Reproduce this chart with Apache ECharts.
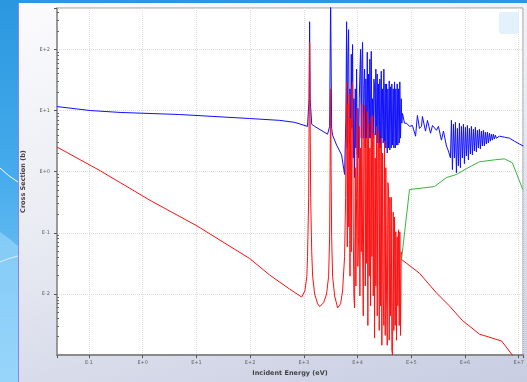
<!DOCTYPE html>
<html>
<head>
<meta charset="utf-8">
<script src="https://cdn.jsdelivr.net/npm/echarts@6/dist/echarts.min.js"></script>
<style>
  html, body { margin: 0; padding: 0; }
  body {
    width: 527px; height: 382px; overflow: hidden; position: relative;
    background: linear-gradient(180deg, #2a97df 0%, #45abec 45%, #8ed0f8 100%);
  }
  .deco { position: absolute; left: 0; top: 0; }
  .panel {
    position: absolute; left: 18px; top: 3px; right: 0; bottom: 0;
    border-left: 1px solid #8d80f2;
    background: linear-gradient(165deg, #fbfbfd 0%, #eaecf3 45%, #c8cde2 100%);
  }
  #chart { position: absolute; left: 0; top: 0; width: 527px; height: 382px; }
</style>
</head>
<body>
<svg class="deco" width="18" height="382">
  <path d="M0 232 Q 9 238 18 246 L18 382 L0 382 Z" fill="#9fd8fb" opacity="0.6"/>
  <path d="M0 168 Q 8 176 18 182" stroke="#ffffff" stroke-width="1" fill="none"/>
  <path d="M0 262 Q 9 258 18 256" stroke="#ffffff" stroke-width="1" fill="none" opacity="0.7"/>
</svg>
<div class="panel"></div>
<div id="chart"></div>
<script>
// incident energy (eV) vs cross section (b)
const totalXs = [
  [0.0254, 11.6], [0.105, 10], [0.38, 9.3], [4.9, 8.6], [98, 7.4], [355, 6.9], [676, 6.4],
  [1170, 5.5], [1250, 15.6], [1280, 283], [1310, 15.6], [1400, 5.95], [1590, 5.5],
  [2760, 4.1], [3020, 5.5], [3150, 700], [3290, 5.1], [3430, 3.95], [4070, 2.72],
  [5040, 1.88], [5730, 0.9],
  [6060, 7.4], [6250, 283], [6440, 2.44], [6600, 69], [6800, 210], [7010, 2.94], [7220, 22.6],
  [7410, 3.53], [7640, 83], [7840, 5.1], [8070, 120], [8320, 1.68], [8540, 15.6], [8800, 0.8],
  [9060, 22.6], [9300, 2.44], [9580, 47.5], [9870, 1.88], [10130, 10.8], [10440, 1.68],
  [10760, 15.6], [11040, 39.5], [11370, 100], [11720, 3.53], [12020, 57.3], [12390, 130],
  [12770, 3.53], [13100, 22.6], [13500, 47.5], [13910, 2.44], [14270, 32.8], [14700, 3.53],
  [15150, 90], [15540, 5.1], [16020, 39.5], [16500, 3.53], [16930, 69], [17450, 3.53],
  [17980, 93], [18450, 4.25], [19010, 15.6], [19590, 3.53], [20100, 32.8], [20710, 25.3],
  [21340, 3.95], [21890, 47.5], [22560, 3.53], [23240, 39.5], [23850, 2.94], [24570, 27.2],
  [25320, 2.44], [25980, 32.8], [26770, 2.44], [27590, 44], [28300, 3.53], [29170, 22.6],
  [30050, 2.94], [30840, 47.5], [31770, 2.44], [32740, 27.2], [33590, 2.44], [34620, 27.2],
  [35670, 2.02], [36600, 22.6], [37710, 2.44], [38860, 30.5], [39870, 2.26], [41080, 24.4],
  [42330, 2.44], [43440, 27.2], [44760, 2.72], [46120, 22.6], [47320, 2.44], [48750, 29.4],
  [50240, 2.44], [51540, 22.6], [53110, 2.72], [54730, 27.2], [56150, 2.72], [57860, 22.6],
  [59620, 2.94], [61170, 29.4], [63030, 3.53], [64950, 15.6], [66640, 6.2], [68600, 8.95],
  [74800, 6.2], [81500, 6.2], [92700, 5.5], [1.05e5, 5.7], [1.2e5, 3.8], [1.3e5, 8.3],
  [1.42e5, 5.1], [1.55e5, 5.5], [1.61e5, 8.0], [1.84e5, 4.6], [2.0e5, 6.9], [2.28e5, 4.25],
  [2.48e5, 5.7], [2.94e5, 4.75], [3.2e5, 5.5], [3.64e5, 3.28], [3.97e5, 4.6], [4.51e5, 2.63],
  [4.91e5, 2.18], [5.35e5, 1.68],
  [5.587e5, 6.9], [5.831e5, 1.08], [6.086e5, 5.95], [6.352e5, 1.68], [6.63e5, 6.4], [6.92e5, 0.96],
  [7.222e5, 5.1], [7.538e5, 1.25], [7.867e5, 6.2], [8.211e5, 1.16], [8.57e5, 5.5], [8.945e5, 1.68],
  [9.336e5, 5.95], [9.744e5, 1.35], [1.017e6, 5.32], [1.061e6, 1.81], [1.108e6, 5.7], [1.156e6, 1.56],
  [1.207e6, 5.1], [1.26e6, 1.95], [1.315e6, 5.5], [1.372e6, 1.88], [1.432e6, 4.94], [1.495e6, 2.18],
  [1.56e6, 5.32], [1.628e6, 2.1], [1.699e6, 4.75], [1.774e6, 2.44], [1.851e6, 4.94], [1.932e6, 2.35],
  [2.017e6, 4.6], [2.105e6, 2.63], [2.197e6, 4.75], [2.293e6, 2.63], [2.393e6, 4.42], [2.498e6, 2.83],
  [2.607e6, 4.42], [2.721e6, 2.94], [2.84e6, 4.25], [2.964e6, 3.16], [3.093e6, 4.1], [3.229e6, 3.28],
  [3.37e6, 4.1], [3.517e6, 3.41], [3.671e6, 3.95], [3.831e6, 3.53], [4.0e6, 3.8],
  [4.36e6, 3.8], [5.41e6, 3.67], [6.7e6, 3.53], [8.3e6, 3.16], [1.03e7, 2.83], [1.22e7, 2.63]
];

const captureXs = [
  [0.0254, 2.53], [0.16, 1.04], [1.37, 0.34], [10.2, 0.13], [98, 0.038], [231, 0.0204],
  [545, 0.012], [910, 0.0089], [1045, 0.0112], [1137, 0.0195], [1170, 0.041], [1230, 0.38],
  [1253, 7.4], [1280, 130], [1309, 7.4], [1340, 0.38], [1400, 0.049], [1458, 0.0195],
  [1586, 0.01], [1807, 0.0069], [1970, 0.0062], [2330, 0.0072], [2650, 0.01], [2890, 0.0195],
  [3020, 0.086], [3080, 1.16], [3150, 22.6], [3215, 1.16], [3290, 0.086], [3430, 0.0195],
  [3740, 0.0093], [4250, 0.0059], [4830, 0.0069], [5260, 0.0112], [5730, 0.041], [5984, 0.38],
  [6246, 29.4], [6436, 0.059], [6603, 13.0], [6804, 0.125], [7011, 18.8], [7224, 0.0195],
  [7412, 7.4], [7637, 0.049], [7836, 22.6], [8074, 29.4], [8320, 0.086], [8535, 0.0093],
  [8795, 0.0059], [9063, 1.16], [9298, 0.0135], [9581, 0.38], [9872, 10.8], [10130, 0.0283],
  [10440, 0.086], [10760, 5.5], [11040, 0.0093], [11370, 2.44], [11720, 0.049], [12020, 13.0],
  [12390, 0.059], [12770, 0.0044], [13100, 8.0], [13500, 12], [13910, 0.0135], [14270, 3.53],
  [14700, 0.0316], [15150, 9.6], [15540, 0.00305], [16020, 6.2], [16500, 0.0195], [16930, 2.44],
  [17450, 0.0064], [17980, 8.0], [18450, 0.041], [19010, 8.3], [19590, 0.0093], [20100, 4.25],
  [20710, 0.0019], [21340, 1.68], [21890, 0.0135], [22560, 5.5], [23240, 0.0044], [23850, 2.44],
  [24570, 4.6], [25320, 0.00253], [25980, 2.94], [26770, 0.0064], [27590, 3.53], [28300, 0.00145],
  [29170, 2.02], [30050, 0.0093], [30840, 0.00305], [31770, 3.16], [32740, 0.0021], [33590, 1.16],
  [34620, 0.0093], [35670, 0.00145], [36600, 0.665], [37710, 0.55], [38860, 0.00175], [39870, 0.38],
  [41080, 0.0044], [42330, 0.38], [43440, 0.0012], [44760, 0.001], [46120, 0.218], [47320, 0.00253],
  [48750, 0.181], [50240, 0.00305], [51540, 0.104], [53110, 0.00175], [54730, 0.086], [56150, 0.0064],
  [57860, 0.112], [59620, 0.00305], [61170, 0.104], [63030, 0.0021], [64950, 0.049], [65790, 0.0367],
  [1.42e5, 0.0218], [2.94e5, 0.0104], [5.1e5, 0.0064], [8.9e5, 0.0037], [1.86e6, 0.0022],
  [4.8e6, 0.0017], [7.6e6, 0.001], [9.0e6, 0.0007]
];

const inelasticXs = [
  [65790, 0.0367], [92700, 0.51], [2.7e5, 0.57], [4.51e5, 0.8], [6.92e5, 0.9], [1.06e6, 1.12],
  [1.85e6, 1.45], [3.52e6, 1.56], [5.41e6, 1.62], [7.6e6, 1.4], [1.19e7, 0.51]
];

const minorTicks = [];
for (let k = -3; k <= 2; k++) {
  for (let m = 2; m <= 9; m++) {
    const v = m * Math.pow(10, k);
    if (v < 475) minorTicks.push(v);
  }
}

function expLabel(v) {
  const n = Math.log10(v);
  const r = Math.round(n);
  if (Math.abs(n - r) > 1e-6) return '';
  return 'E' + (r >= 0 ? '+' : '') + r;
}

const chart = echarts.init(document.getElementById('chart'), null, { renderer: 'canvas' });

const lineSeries = (data, color, width) => ({
  type: 'line',
  data: data,
  showSymbol: false,
  symbol: 'none',
  clip: true,
  lineStyle: { color: color, width: width },
  emphasis: { disabled: true }
});

chart.setOption({
  backgroundColor: 'transparent',
  animation: false,
  grid: {
    left: 57, right: 4, top: 8, bottom: 22,
    show: true, backgroundColor: '#ffffff', borderColor: '#9a9a9a', borderWidth: 1
  },
  graphic: [{
    type: 'rect', right: 8, top: 12, shape: { width: 20, height: 22, r: 3 },
    style: { fill: '#dbeefb', opacity: 0.8 }, z: 10
  }],
  xAxis: {
    type: 'log',
    min: 0.0254, max: 1.2e7,
    name: 'Incident Energy (eV)',
    nameLocation: 'middle', nameGap: 11,
    nameTextStyle: { fontSize: 6.5, fontWeight: 'bold', color: '#444', fontFamily: 'DejaVu Sans' },
    axisLine: { show: true, lineStyle: { color: '#8a8a8a', width: 2 } },
    axisTick: { show: true, length: 3, lineStyle: { color: '#555' } },
    axisLabel: { fontSize: 5, color: '#666', margin: 5, formatter: expLabel, fontFamily: 'DejaVu Sans' },
    splitLine: { show: true, lineStyle: { color: '#dcdcdc', type: 'dotted' } }
  },
  yAxis: [{
    type: 'log',
    min: 0.001, max: 475,
    name: 'Cross Section (b)',
    nameLocation: 'middle', nameGap: 30,
    nameTextStyle: { fontSize: 6.5, fontWeight: 'bold', color: '#444', fontFamily: 'DejaVu Sans' },
    axisLine: { show: true, lineStyle: { color: '#8a8a8a', width: 1.5 } },
    axisTick: { show: true, length: 3, lineStyle: { color: '#555' } },
    axisLabel: { fontSize: 5, color: '#666', margin: 7, formatter: expLabel, showMinLabel: false, fontFamily: 'DejaVu Sans' },
    splitLine: { show: true, lineStyle: { color: '#dcdcdc', type: 'dotted' } }
  }, {
    type: 'log',
    min: 0.001, max: 475,
    position: 'left',
    axisLine: { show: false },
    axisLabel: { show: false },
    splitLine: { show: false },
    axisTick: { show: true, inside: true, length: 2, customValues: minorTicks, lineStyle: { color: '#666' } }
  }],
  series: [
    lineSeries(totalXs, '#1010ff', 1),
    lineSeries(captureXs, '#ff1010', 1),
    lineSeries(inelasticXs, '#3cb43c', 1)
  ]
});
</script>
</body>
</html>
